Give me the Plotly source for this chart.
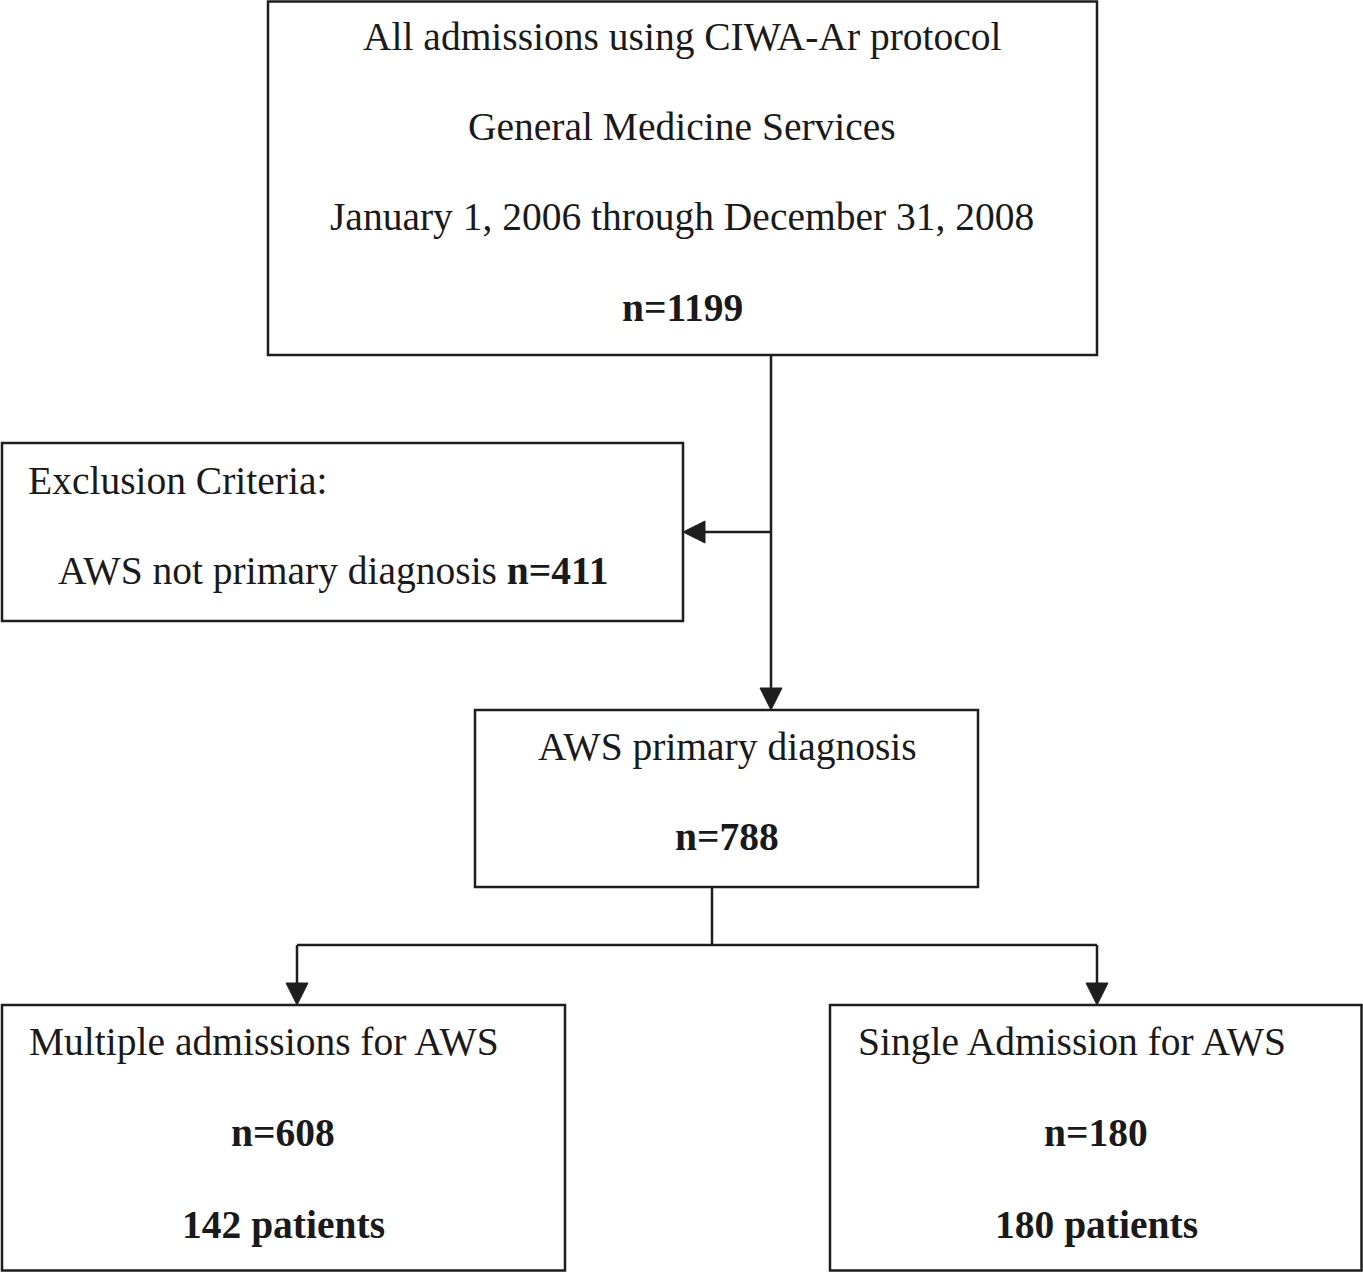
import plotly.graph_objects as go

W, H = 1363, 1272

# ---- data (flow counts) ----
stage_labels = ["All admissions using CIWA-Ar protocol", "General Medicine Services",
                "January 1, 2006 through December 31, 2008"]
n_all = 1199
excl_title = "Exclusion Criteria:"
excl_label = "AWS not primary diagnosis"
n_excl = 411
prim_label = "AWS primary diagnosis"
n_prim = 788
split_labels = ["Multiple admissions for AWS", "Single Admission for AWS"]
split_n = [608, 180]
split_patients = [142, 180]

LINE = "#1e1e1e"
FONT = dict(family="Liberation Serif", size=39.5, color="#1a1a1a")

fig = go.Figure()
shapes = []

def box(x0, y0, x1, y1):
    shapes.append(dict(type="rect", x0=x0, y0=y0, x1=x1, y1=y1,
                       line=dict(color=LINE, width=2.5), fillcolor="rgba(0,0,0,0)"))

def seg(x0, y0, x1, y1):
    shapes.append(dict(type="line", x0=x0, y0=y0, x1=x1, y1=y1,
                       line=dict(color=LINE, width=2.5)))

def arrow_down(x, y):
    shapes.append(dict(type="path", path=f"M {x-11},{y-22} L {x+11},{y-22} L {x},{y} Z",
                       fillcolor=LINE, line=dict(color=LINE, width=1)))

def arrow_left(x, y):
    shapes.append(dict(type="path", path=f"M {x+22},{y-11} L {x+22},{y+11} L {x},{y} Z",
                       fillcolor=LINE, line=dict(color=LINE, width=1)))

# boxes
box(268, 1.5, 1097, 355)
box(2, 443, 683, 621)
box(475, 710, 978, 887)
box(2, 1005, 565, 1270.5)
box(830, 1005, 1361.5, 1270.5)

# connectors
seg(771, 355, 771, 690)
arrow_down(771, 710)
seg(771, 532, 703, 532)
arrow_left(683, 532)
seg(712, 887, 712, 945)
seg(297, 945, 1097, 945)
seg(297, 945, 297, 985)
arrow_down(297, 1005)
seg(1097, 945, 1097, 985)
arrow_down(1097, 1005)

ann = []
def text(x, y, s, anchor="center"):
    ann.append(dict(x=x, y=y, text=s, showarrow=False, xanchor=anchor, yanchor="middle",
                    font=FONT, xref="x", yref="y"))

text(682, 37, stage_labels[0])
text(682, 127, stage_labels[1])
text(682, 217, stage_labels[2])
text(682, 308, f"<b>n={n_all}</b>")

text(26, 481, excl_title, anchor="left")
text(333, 571, f"{excl_label} <b>n={n_excl}</b>")

text(727, 747, prim_label)
text(727, 837, f"<b>n={n_prim}</b>")

text(264, 1042, split_labels[0])
text(283, 1133, f"<b>n={split_n[0]}</b>")
text(283, 1225, f"<b>{split_patients[0]} patients</b>")

text(1072, 1042, split_labels[1])
text(1096, 1133, f"<b>n={split_n[1]}</b>")
text(1096, 1225, f"<b>{split_patients[1]} patients</b>")

fig.update_layout(
    width=W, height=H, margin=dict(l=0, r=0, t=0, b=0),
    paper_bgcolor="white", plot_bgcolor="white",
    shapes=shapes, annotations=ann, showlegend=False,
    xaxis=dict(range=[0, W], visible=False, fixedrange=True),
    yaxis=dict(range=[H, 0], visible=False, fixedrange=True),
)

fig.write_html("out.html", config={"displayModeBar": False},
               post_script="document.body.style.margin='0';document.body.style.overflow='hidden';")
